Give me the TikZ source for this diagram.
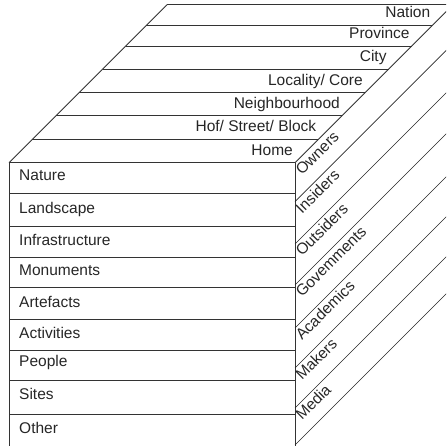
\documentclass[tikz,border=0pt]{standalone}
\usepackage{fontspec}
\setmainfont{Liberation Sans}
\newcommand\labfont{\fontsize{15.5}{18}\selectfont}
\begin{document}
\begin{tikzpicture}[x=1pt,y=1pt,
  edge/.style={draw=black!80,line width=0.9pt},
  faceline/.style={draw=black!85,line width=0.65pt},
  lab/.style={inner sep=0pt,font=\labfont,text=black!85}]
\useasboundingbox (0,0) rectangle (446,446);
\clip (0,0) rectangle (446,446);
% all y values below are measured from the top (446 - y)
% ---------- top face ----------
\foreach \y [count=\i] in {4.7,25.3,46,69,92.7,115.7,139.3,162.7}{
  \coordinate (tl\i) at ({9+162.7-\y},{446-\y});
  \coordinate (tr\i) at ({295+162.7-\y},{446-\y});
  \draw[edge] (tl\i) -- (tr\i);
}
\draw[edge] (tl8) -- (tl1);
\draw[edge] (tr8) -- (tr1);
\foreach \yb/\t [count=\i] in {25.3/{Nation},46/{Province},69/{City},92.7/{Locality/ Core},115.7/{Neighbourhood},139.3/{Hof/ Street/ Block},162.7/{Home}}{
  \node[lab,anchor=base east] (top\i) at ({295+162.7-\yb-2},{446-\yb+7.3}) {\t};
}
% ---------- front face ----------
\coordinate (fbl) at (9,-4);
\coordinate (fbr) at (295,-4);
\draw[edge] (tl8) -- (fbl);
\draw[edge] (tr8) -- (fbr);
\foreach \y [count=\i] in {193.3,226,257.3,287.3,319.3,350.3,380.7,414}{
  \coordinate (rl\i) at (9,{446-\y});
  \coordinate (rr\i) at (295,{446-\y});
  \draw[edge] (rl\i) -- (rr\i);
}
\foreach \b/\t [count=\i] in {180.7/Nature,214/Landscape,246/Infrastructure,276/Monuments,307.3/Artefacts,338.3/Activities,366.7/People,400/Sites,433.3/Other}{
  \node[lab,anchor=base west] (front\i) at (19,{446-\b}) {\t};
}
% ---------- right face ----------
\foreach \y [count=\i] in {201.7,244,285,328,368,408,445}{
  \coordinate (sa\i) at (295,{446-\y});
  \coordinate (sb\i) at (505,{446-\y+210});
  \draw[faceline] (sa\i) -- (sb\i);
}
\foreach \y/\t [count=\i] in {162.7/Owners,201.7/Insiders,244/Outsiders,285/Govemments,328/Academics,368/Makers,408/Media}{
  \node[lab,anchor=base west,rotate=45] (side\i) at (302,{446-\y-13}) {\t};
}
\end{tikzpicture}
\end{document}
